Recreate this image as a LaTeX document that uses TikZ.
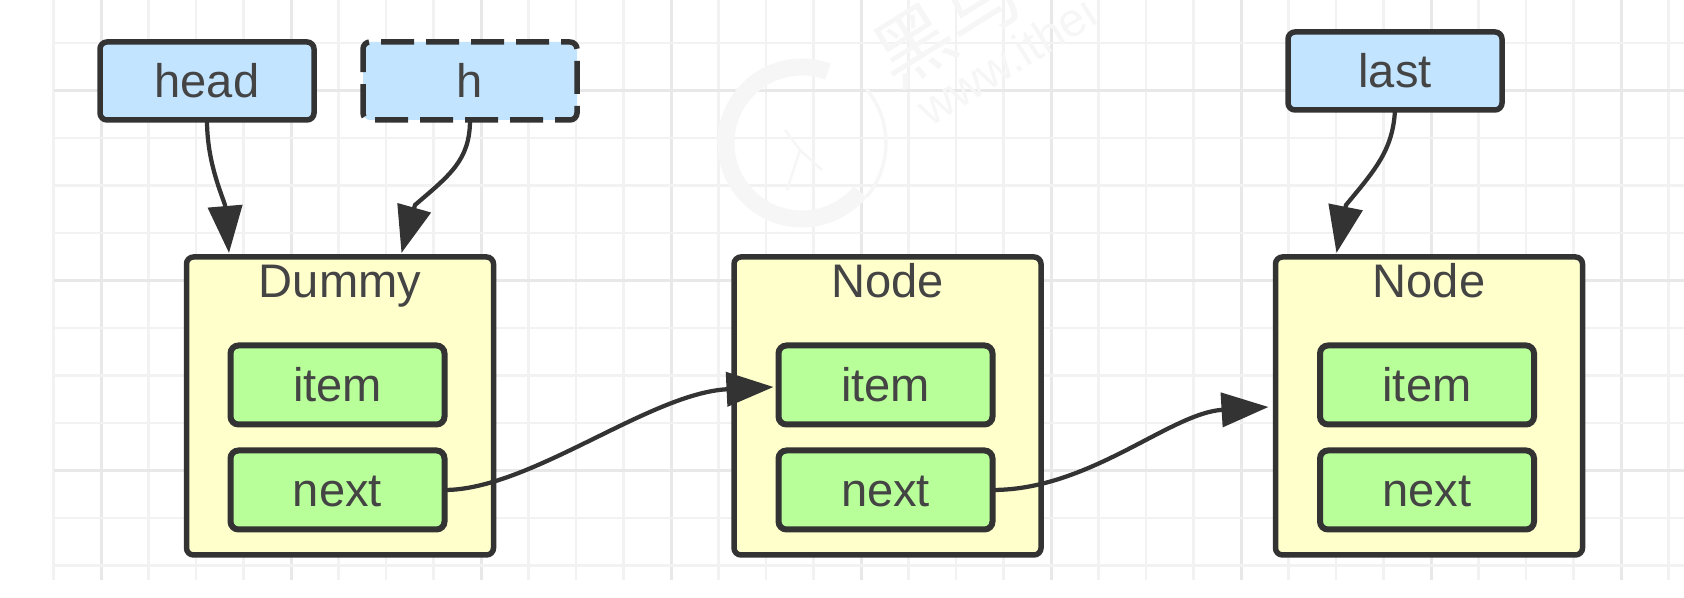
\documentclass[tikz,border=0pt]{standalone}
\usepackage{fontspec}
\setmainfont{Liberation Sans}
\newfontfamily\cjkfont{Noto Sans CJK SC}
\usetikzlibrary{arrows.meta}

\definecolor{inkgray}{HTML}{333333}
\definecolor{textgray}{HTML}{444444}
\definecolor{pointerblue}{HTML}{C2E4FF}
\definecolor{boxyellow}{HTML}{FFFFCC}
\definecolor{fieldgreen}{HTML}{B9FF99}
\definecolor{gridminor}{HTML}{F2F2F2}
\definecolor{gridmajor}{HTML}{E8E8E8}
\definecolor{markgray}{HTML}{F6F6F6}

\tikzset{
	txt/.style={font=\fontsize{26.8pt}{30pt}\selectfont,text=textgray,text height=0.66cm,text depth=0cm,inner sep=0pt,outer sep=0pt},
	pointer/.style={txt,draw=inkgray,line width=0.11cm,fill=pointerblue,rounded corners=0.14cm,minimum width=4.28cm,minimum height=1.56cm},
	listbox/.style={draw=inkgray,line width=0.11cm,fill=boxyellow,rounded corners=0.14cm,minimum width=6.14cm,minimum height=5.96cm,inner sep=0pt,outer sep=0pt},
	field/.style={txt,draw=inkgray,line width=0.12cm,fill=fieldgreen,rounded corners=0.16cm,minimum width=4.28cm,minimum height=1.58cm},
	link/.style={draw=inkgray,line width=0.085cm,-{Triangle[length=0.94cm,width=0.68cm]}}
}

\begin{document}
\begin{tikzpicture}

	\useasboundingbox (0,0) rectangle (33.68,11.96);

	%% grid
	\foreach \k in {0,...,34} {
		\pgfmathtruncatemacro{\major}{mod(\k,4)==1}
		\ifnum\major=1
			\draw[gridmajor,line width=0.06cm] ({1.07+0.95*\k},0.36) -- ({1.07+0.95*\k},11.96);
		\else
			\draw[gridminor,line width=0.05cm] ({1.07+0.95*\k},0.36) -- ({1.07+0.95*\k},11.96);
		\fi
	}
	\foreach \k in {0,...,11} {
		\pgfmathtruncatemacro{\major}{mod(\k,4)==1}
		\ifnum\major=1
			\draw[gridmajor,line width=0.06cm] (1.07,{11.1-0.95*\k}) -- (33.68,{11.1-0.95*\k});
		\else
			\draw[gridminor,line width=0.05cm] (1.07,{11.1-0.95*\k}) -- (33.68,{11.1-0.95*\k});
		\fi
	}

	%% watermark
	\begin{scope}
		\clip (0,0) rectangle (33.68,11.96);
		\draw[markgray,line width=0.07cm] (16.04,9.1) ++(-40:1.68) arc (-40:40:1.68);
		\draw[markgray,line width=0.34cm] (16.04,9.1) ++(70:1.52) arc (70:320:1.52);
		\draw[markgray,line width=0.05cm] (15.7,9.36) -- (16,8.96) -- (16.44,8.56) (16,8.96) -- (15.74,8.16);
		\node[text=markgray,font=\cjkfont\fontsize{44pt}{50pt}\selectfont,rotate=32,inner sep=0pt] (MarkName) at (18.94,11.46) {黑马};
		\node[text=markgray,font=\fontsize{27pt}{30pt}\selectfont,rotate=32,anchor=base west,inner sep=0pt] (MarkSite) at (18.6,9.4) {www.ithei};
	\end{scope}

	%% pointers
	\node[pointer] (Head) at (4.14,10.34) {head};
	\node[pointer,dash pattern=on 0.66cm off 0.24cm,dash phase=0.48cm] (H) at (9.4,10.34) {h};
	\node[pointer] (Last) at (27.9,10.54) {last};

	%% list nodes
	\node[listbox] (Dummy) at (6.8,3.84) {};
	\node[listbox] (NodeOne) at (17.75,3.84) {};
	\node[listbox] (NodeTwo) at (28.58,3.84) {};

	\node[txt] (DummyTitle) at (6.8,6.33) {Dummy};
	\node[txt] (NodeOneTitle) at (17.75,6.33) {Node};
	\node[txt] (NodeTwoTitle) at (28.58,6.33) {Node};

	\node[field] (DummyItem) at (6.75,4.26) {item};
	\node[field] (DummyNext) at (6.75,2.16) {next};
	\node[field] (NodeOneItem) at (17.71,4.26) {item};
	\node[field] (NodeOneNext) at (17.71,2.16) {next};
	\node[field] (NodeTwoItem) at (28.54,4.26) {item};
	\node[field] (NodeTwoNext) at (28.54,2.16) {next};

	%% links
	\draw[link] (Head.south) .. controls (4.14,8.76) and (4.4,8.16) .. (4.5,7.86) -- ([xshift=0.85cm,yshift=0.08cm]Dummy.north west);
	\draw[link] (H.south) .. controls (9.4,8.76) and (9,8.46) .. (8.3,7.86) -- ([xshift=4.3cm,yshift=0.08cm]Dummy.north west);
	\draw[link] (Last.south) .. controls (27.86,8.96) and (27.5,8.56) .. (26.92,7.86) -- ([xshift=1.22cm,yshift=0.08cm]NodeTwo.north west);
	\draw[link] (DummyNext.east) .. controls (10.6,2.16) and (13,4.1) .. ([xshift=-0.1cm,yshift=-0.04cm]NodeOneItem.west);
	\draw[link] (NodeOneNext.east) .. controls (21.8,2.16) and (23.4,3.7) .. ([xshift=-0.14cm,yshift=-0.02cm]NodeTwo.west);

\end{tikzpicture}
\end{document}
